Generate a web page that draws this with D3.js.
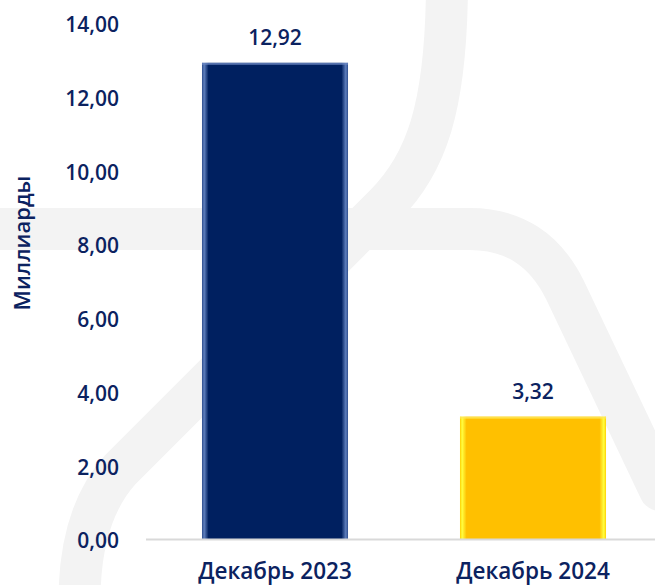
<!DOCTYPE html>
<html>
<head>
<meta charset="utf-8">
<script src="https://cdn.jsdelivr.net/npm/d3@7"></script>
<style>
  html, body { margin: 0; padding: 0; background: #fff; }
  svg { display: block; }
  text { font-family: "Open Sans", "Noto Sans", sans-serif; font-weight: 600; fill: #0b2260; }
</style>
</head>
<body>
<svg id="chart" width="655" height="585"></svg>
<script>
const categories = ["Декабрь 2023", "Декабрь 2024"];
const values = [12.92, 3.32];
const tickValues = [0, 2, 4, 6, 8, 10, 12, 14];
const yTitle = "Миллиарды";

const W = 655, H = 585;
const svg = d3.select("#chart");
const defs = svg.append("defs");

// faint watermark
const wm = svg.append("g").attr("fill", "none").attr("stroke", "#f3f3f3")
  .attr("stroke-width", 42).attr("stroke-linecap", "round");
wm.append("path").attr("d", "M447,-20 C447,110 425,165 385,205 L120,470 Q75,520 80,620");
wm.append("path").attr("d", "M-30,229 L470,229 Q535,229 565,290 L660,490");

const x = d3.scaleBand().domain(categories).range([146, 662])
  .paddingInner(0.434).paddingOuter(0.217);
const y = d3.scaleLinear().domain([0, 14]).range([539, 23]);

function makeGrad(id, edge, mid, base) {
  const g = defs.append("linearGradient").attr("id", id)
    .attr("x1", "0%").attr("x2", "100%").attr("y1", "0%").attr("y2", "0%");
  [[0, mid], [1.5, edge], [4.5, base], [95.5, base], [98.5, edge], [100, mid]]
    .forEach(([o, c]) => g.append("stop").attr("offset", o + "%").attr("stop-color", c));
}
makeGrad("gNavy", "#5f7fbd", "#2c4c8c", "#002060");
makeGrad("gGold", "#ffff40", "#ffd000", "#ffc000");
const fills = ["url(#gNavy)", "url(#gGold)"];
const tops = ["#6a86c0", "#ffe85a"];

const bars = svg.append("g");
bars.selectAll("rect.bar").data(values).join("rect").attr("class", "bar")
  .attr("x", (d, i) => x(categories[i]))
  .attr("y", d => y(d))
  .attr("width", x.bandwidth())
  .attr("height", d => y(0) - y(d))
  .attr("fill", (d, i) => fills[i]);
bars.selectAll("rect.top").data(values).join("rect").attr("class", "top")
  .attr("x", (d, i) => x(categories[i]))
  .attr("y", d => y(d))
  .attr("width", x.bandwidth())
  .attr("height", 2)
  .attr("fill", (d, i) => tops[i]).attr("opacity", 0.8);

// baseline
svg.append("line").attr("x1", 146).attr("x2", W).attr("y1", y(0) + 0.5).attr("y2", y(0) + 0.5)
  .attr("stroke", "#d9d9d9").attr("stroke-width", 2);

// y axis labels
const yAxis = d3.axisLeft(y).tickValues(tickValues).tickSize(0).tickPadding(0)
  .tickFormat(d => d3.format(".2f")(d).replace(".", ","));
const gy = svg.append("g").attr("transform", "translate(119,0)").call(yAxis);
gy.select(".domain").remove();
gy.selectAll("text").attr("font-size", 21).attr("dy", "0.42em")
  .style("font-family", "'Open Sans', sans-serif").style("font-weight", 600).attr("fill", "#0b2260");

// x axis labels
const xAxis = d3.axisBottom(x).tickSize(0).tickPadding(0);
const gx = svg.append("g").attr("transform", "translate(0,563)").call(xAxis);
gx.select(".domain").remove();
gx.selectAll("text").attr("font-size", 22.5).attr("dy", "0.72em")
  .style("font-family", "'Open Sans', sans-serif").style("font-weight", 600).attr("fill", "#0b2260");

// value labels
svg.append("g").selectAll("text").data(values).join("text")
  .attr("x", (d, i) => x(categories[i]) + x.bandwidth() / 2)
  .attr("y", d => y(d) - 18)
  .attr("text-anchor", "middle").attr("font-size", 21)
  .text(d => d3.format(".2f")(d).replace(".", ","));

// y title
svg.append("text").attr("transform", "translate(30,243) rotate(-90)")
  .attr("text-anchor", "middle").attr("font-size", 22).text(yTitle);
</script>
</body>
</html>
